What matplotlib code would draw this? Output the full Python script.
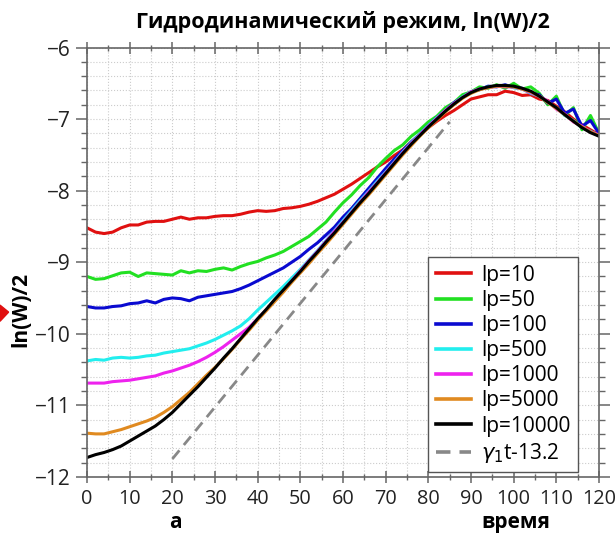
import matplotlib

matplotlib.use("Agg")
import matplotlib.pyplot as plt
from matplotlib.patches import Polygon
from matplotlib.ticker import MultipleLocator
import numpy as np

plt.rcParams['font.family'] = ['Open Sans', 'DejaVu Sans']

# time grid, step 2
t = np.arange(0, 121, 2)

w_lp10 = [-8.52, -8.58, -8.60, -8.58, -8.52, -8.48, -8.48, -8.44, -8.43, -8.43,
          -8.40, -8.37, -8.40, -8.38, -8.38, -8.36, -8.35, -8.35, -8.33, -8.30,
          -8.28, -8.29, -8.28, -8.25, -8.24, -8.22, -8.19, -8.15, -8.10, -8.05,
          -7.98, -7.91, -7.83, -7.75, -7.67, -7.60, -7.51, -7.43, -7.32, -7.22,
          -7.12, -7.03, -6.95, -6.88, -6.80, -6.72, -6.69, -6.66, -6.66, -6.61,
          -6.63, -6.67, -6.66, -6.72, -6.74, -6.82, -6.90, -7.00, -7.08, -7.15,
          -7.22]
w_lp50 = [-9.20, -9.24, -9.23, -9.19, -9.15, -9.14, -9.20, -9.15, -9.16, -9.17,
          -9.18, -9.12, -9.15, -9.12, -9.13, -9.10, -9.08, -9.11, -9.06, -9.02,
          -8.99, -8.94, -8.90, -8.85, -8.78, -8.71, -8.64, -8.54, -8.44, -8.30,
          -8.17, -8.06, -7.93, -7.82, -7.67, -7.55, -7.44, -7.36, -7.24, -7.15,
          -7.04, -6.96, -6.84, -6.77, -6.66, -6.62, -6.55, -6.57, -6.52, -6.57,
          -6.50, -6.58, -6.55, -6.64, -6.80, -6.68, -6.95, -6.84, -7.15, -6.95,
          -7.20]
w_lp100 = [-9.62, -9.64, -9.64, -9.62, -9.61, -9.58, -9.57, -9.54, -9.57, -9.52,
           -9.50, -9.51, -9.54, -9.49, -9.47, -9.45, -9.43, -9.41, -9.37, -9.32,
           -9.26, -9.20, -9.14, -9.08, -9.00, -8.92, -8.82, -8.73, -8.62, -8.51,
           -8.37, -8.25, -8.11, -7.97, -7.83, -7.69, -7.56, -7.44, -7.32, -7.21,
           -7.09, -6.98, -6.88, -6.77, -6.70, -6.62, -6.59, -6.54, -6.55, -6.52,
           -6.56, -6.57, -6.64, -6.66, -6.78, -6.72, -6.92, -6.86, -7.10, -7.02,
           -7.20]
w_lp500 = [-10.38, -10.36, -10.37, -10.34, -10.33, -10.34, -10.33, -10.31, -10.30, -10.27,
           -10.25, -10.23, -10.21, -10.17, -10.13, -10.08, -10.02, -9.96, -9.89, -9.79,
           -9.67, -9.56, -9.45, -9.34, -9.22, -9.10, -8.97, -8.84, -8.70, -8.56,
           -8.42, -8.28, -8.14, -8.01, -7.87, -7.74, -7.60, -7.46, -7.33, -7.21,
           -7.09, -6.98, -6.88, -6.78, -6.69, -6.62, -6.58, -6.55, -6.54, -6.53,
           -6.56, -6.58, -6.64, -6.68, -6.77, -6.84, -6.95, -7.02, -7.12, -7.17,
           -7.23]
w_lp1000 = [-10.69, -10.69, -10.69, -10.67, -10.66, -10.65, -10.63, -10.61, -10.59, -10.55,
            -10.52, -10.48, -10.44, -10.39, -10.33, -10.26, -10.18, -10.09, -10.00, -9.91,
            -9.79, -9.67, -9.53, -9.40, -9.26, -9.12, -8.98, -8.85, -8.71, -8.57,
            -8.44, -8.30, -8.16, -8.02, -7.89, -7.75, -7.61, -7.47, -7.34, -7.22,
            -7.10, -6.99, -6.88, -6.78, -6.70, -6.62, -6.58, -6.56, -6.54, -6.55,
            -6.55, -6.58, -6.63, -6.68, -6.75, -6.86, -6.93, -7.04, -7.10, -7.18,
            -7.22]
w_lp5000 = [-11.39, -11.40, -11.40, -11.37, -11.34, -11.30, -11.26, -11.22, -11.17, -11.10,
            -11.02, -10.92, -10.82, -10.70, -10.58, -10.47, -10.35, -10.22, -10.08, -9.95,
            -9.81, -9.68, -9.55, -9.42, -9.28, -9.15, -9.02, -8.88, -8.75, -8.61,
            -8.47, -8.33, -8.19, -8.06, -7.92, -7.78, -7.64, -7.50, -7.37, -7.24,
            -7.12, -7.01, -6.90, -6.80, -6.71, -6.64, -6.59, -6.56, -6.54, -6.54,
            -6.55, -6.58, -6.62, -6.68, -6.77, -6.85, -6.94, -7.03, -7.11, -7.18,
            -7.23]
w_lp10000 = [-11.73, -11.69, -11.66, -11.62, -11.57, -11.50, -11.43, -11.36, -11.29, -11.20,
             -11.10, -10.98, -10.86, -10.74, -10.61, -10.48, -10.34, -10.21, -10.07, -9.93,
             -9.79, -9.66, -9.52, -9.39, -9.26, -9.13, -8.99, -8.86, -8.72, -8.59,
             -8.45, -8.31, -8.17, -8.04, -7.90, -7.76, -7.62, -7.48, -7.35, -7.23,
             -7.11, -7.00, -6.89, -6.79, -6.70, -6.63, -6.58, -6.55, -6.53, -6.53,
             -6.54, -6.57, -6.61, -6.68, -6.76, -6.84, -6.94, -7.03, -7.12, -7.19,
             -7.24]

series = [w_lp10, w_lp50, w_lp100, w_lp500, w_lp1000, w_lp5000, w_lp10000]
labels = ['lp=10', 'lp=50', 'lp=100', 'lp=500', 'lp=1000', 'lp=5000', 'lp=10000']
colors = ['#e01010', '#22e022', '#0a0ad0', '#22eeee', '#ee22ee', '#e08a20', '#000000']

# linear fit gamma_1 * t - 13.2
gamma1 = 0.0725
fit_t = np.array([20.0, 85.0])

fig = plt.figure(figsize=(6.15, 5.4), dpi=100)
ax = fig.add_axes([0.1415, 0.117, 0.8325, 0.795])

for y, lab, c in zip(series, labels, colors):
    ax.plot(t, y, color=c, lw=2.2, label=lab)
ax.plot(fit_t, gamma1 * fit_t - 13.2, color='#888888', lw=2, ls=(0, (4, 2.5)),
        label=r'$\gamma_1$t-13.2')

ax.set_xlim(0, 120)
ax.set_ylim(-12, -6)
ax.xaxis.set_major_locator(MultipleLocator(10))
ax.xaxis.set_minor_locator(MultipleLocator(5))
ax.yaxis.set_major_locator(MultipleLocator(1))
ax.yaxis.set_minor_locator(MultipleLocator(0.2))
ax.grid(which='both', color='#cccccc', ls=':', lw=0.8)
ax.set_axisbelow(True)

for s in ax.spines.values():
    s.set_color('#666666')
    s.set_linewidth(1.2)
ax.tick_params(which='both', top=True, right=True, colors='#666666',
               labelcolor='#222222', labelsize=15)
ax.tick_params(axis='x', which='both', direction='inout', pad=5, labelsize=14.3)
ax.tick_params(axis='y', which='both', direction='out')
ax.tick_params(which='major', length=8, width=1.1)
ax.tick_params(which='minor', length=4, width=1.0)

ax.set_title('Гидродинамический режим, ln(W)/2', fontsize=15.5,
             fontweight='bold', pad=14)
ax.set_ylabel('ln(W)/2', fontsize=15, fontweight='bold')
ax.yaxis.set_label_coords(-0.108, 0.39)
fig.text(0.838, 0.022, 'время', fontsize=15, fontweight='bold', ha='center')
fig.text(0.285, 0.022, 'а', fontsize=15, fontweight='bold', ha='center')

# small red arrow head at the left edge
fig.patches.append(Polygon([[0.0, 0.435], [0.014, 0.422], [0.0, 0.405]],
                           closed=True, transform=fig.transFigure,
                           color='#e01010', figure=fig))

leg = ax.legend(loc='lower right', bbox_to_anchor=(0.959, 0.011), fontsize=15,
                handlelength=1.7, handletextpad=0.5, labelspacing=0.2,
                borderpad=0.35, borderaxespad=0, fancybox=False, framealpha=1)
leg.get_frame().set_edgecolor('#555555')
leg.get_frame().set_linewidth(1.0)
for line in leg.get_lines():
    line.set_linewidth(2.6)

fig.savefig('out.png', dpi=100, facecolor='white')
